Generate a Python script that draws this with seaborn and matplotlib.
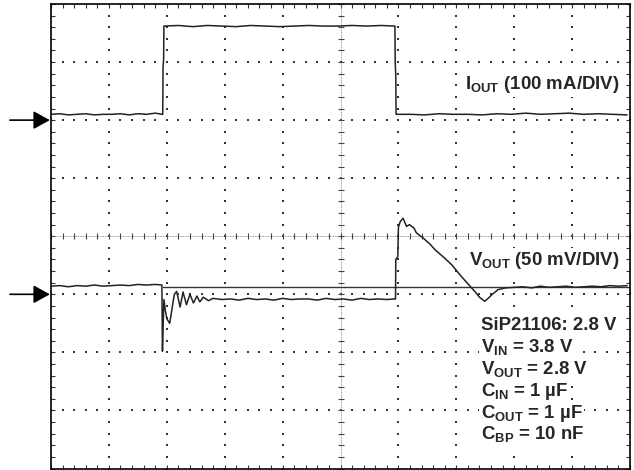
import numpy as np
import pandas as pd
import seaborn as sns
import matplotlib.pyplot as plt

# scope traces, in screen divisions (x: 0..10, y: -4..4, center = 0)
iout_t = [0.00, 0.15, 0.30, 0.45, 0.60, 0.75, 0.90, 1.05, 1.20, 1.35, 1.50, 1.65, 1.80, 1.92,
          1.93, 1.935, 1.945, 1.95,
          2.20, 2.45, 2.70, 2.95, 3.20, 3.45, 3.70, 3.95, 4.20, 4.45, 4.70, 4.95, 5.20, 5.45, 5.70, 5.93,
          5.94, 5.945, 5.955, 5.96,
          6.20, 6.45, 6.70, 6.95, 7.20, 7.45, 7.70, 7.95, 8.20, 8.45, 8.70, 8.95, 9.20, 9.45, 9.70, 9.95]
iout_v = [2.10, 2.11, 2.09, 2.10, 2.11, 2.09, 2.10, 2.10, 2.11, 2.09, 2.11, 2.10, 2.12, 2.10,
          2.10, 2.90, 3.05, 3.62,
          3.63, 3.61, 3.63, 3.62, 3.61, 3.63, 3.62, 3.61, 3.62, 3.63, 3.62, 3.62, 3.63, 3.62, 3.63, 3.62,
          3.62, 3.00, 2.75, 2.10,
          2.10, 2.09, 2.11, 2.10, 2.10, 2.09, 2.11, 2.10, 2.12, 2.10, 2.11, 2.12, 2.10, 2.11, 2.10, 2.09]

vout_t = [0.00, 0.15, 0.30, 0.45, 0.60, 0.75, 0.90, 1.05, 1.20, 1.35, 1.50, 1.65, 1.80, 1.915,
          1.925, 1.935, 1.95, 1.975, 2.00, 2.05, 2.09, 2.13, 2.17, 2.23, 2.28, 2.34, 2.40, 2.46,
          2.52, 2.57, 2.63, 2.72, 2.80,
          2.95, 3.10, 3.25, 3.40, 3.55, 3.70, 3.85, 4.00, 4.15, 4.30, 4.45, 4.60, 4.75, 4.90,
          5.05, 5.20, 5.35, 5.50, 5.65, 5.80, 5.94,
          5.95, 5.955, 5.99, 6.00, 6.03, 6.08, 6.14, 6.19, 6.27, 6.31, 6.45, 6.55, 6.63, 6.78,
          6.92, 7.06, 7.21, 7.32, 7.40, 7.49, 7.55, 7.61, 7.72, 7.85,
          8.00, 8.15, 8.30, 8.45, 8.60, 8.75, 8.90, 9.05, 9.20, 9.35, 9.50, 9.65, 9.80, 9.95]
vout_v = [-0.86, -0.85, -0.87, -0.85, -0.86, -0.84, -0.86, -0.85, -0.84, -0.85, -0.83, -0.84, -0.83, -0.84,
          -1.98, -1.60, -1.09, -1.28, -1.42, -1.50, -1.25, -1.00, -0.95, -1.22, -0.96, -1.18, -1.00, -1.15,
          -1.03, -1.13, -1.05, -1.11, -1.07,
          -1.09, -1.08, -1.10, -1.07, -1.09, -1.08, -1.10, -1.07, -1.09, -1.08, -1.08, -1.10, -1.07, -1.09,
          -1.08, -1.10, -1.07, -1.09, -1.08, -1.09, -1.08,
          -1.08, -0.40, -0.35, 0.15, 0.25, 0.31, 0.17, 0.20, 0.14, 0.06, -0.05, -0.14, -0.23, -0.36,
          -0.49, -0.66, -0.83, -0.95, -1.05, -1.12, -1.07, -1.01, -0.92, -0.89,
          -0.88, -0.87, -0.89, -0.86, -0.88, -0.87, -0.86, -0.88, -0.87, -0.86, -0.87, -0.85, -0.86, -0.85]

vout_ref_t = [1.93, 10.0]
vout_ref_v = [-0.87, -0.87]

ch_levels = [2.0, -1.0]  # channel ground markers

iout_label = r"$I_{OUT}$ (100 mA/DIV)"
vout_label = r"$V_{OUT}$ (50 mV/DIV)"
cond_lines = ["SiP21106: 2.8 V", r"$V_{IN}$ = 3.8 V", r"$V_{OUT}$ = 2.8 V",
              r"$C_{IN}$ = 1 µF", r"$C_{OUT}$ = 1 µF", r"$C_{BP}$ = 10 nF"]

sns.set_style("white")
plt.rcParams['font.family'] = ['Liberation Sans', 'DejaVu Sans']
plt.rcParams['mathtext.fontset'] = 'custom'
plt.rcParams['mathtext.rm'] = 'Liberation Sans:bold'
plt.rcParams['mathtext.it'] = 'Liberation Sans:bold'
plt.rcParams['mathtext.bf'] = 'Liberation Sans:bold'
plt.rcParams['mathtext.default'] = 'rm'

fig = plt.figure(figsize=(6.34, 4.70), dpi=100)
ax = fig.add_axes([51 / 634, 1.5 / 470, 579 / 634, 464.5 / 470])
ax.set_xlim(0, 10)
ax.set_ylim(-4, 4)

# graticule dots
gx = [v for v in range(1, 10) if v != 5]
gy = [v for v in range(-3, 4) if v != 0]
fine_y = np.arange(-4, 4.001, 0.2)
fine_x = np.arange(0, 10.001, 0.2)
for x in gx:
    ax.scatter([x] * len(fine_y), fine_y, s=2.0, marker='s', color='#333', linewidths=0, zorder=1)
for y in gy:
    ax.scatter(fine_x, [y] * len(fine_x), s=2.0, marker='s', color='#333', linewidths=0, zorder=1)
# center axes with small ticks
ax.axhline(0, color='#777', lw=0.6, ls=(0, (1, 1)), zorder=1)
ax.axvline(5, color='#777', lw=0.6, ls=(0, (1, 1)), zorder=1)
ax.scatter(fine_x, [0] * len(fine_x), s=16, marker='|', color='#444', linewidths=0.8, zorder=1)
ax.scatter([5] * len(fine_y), fine_y, s=16, marker='_', color='#444', linewidths=0.8, zorder=1)

# traces
trace = dict(estimator=None, sort=False, color='#222', lw=1.1, ax=ax, legend=False, zorder=3)
sns.lineplot(x=iout_t, y=iout_v, **trace)
sns.lineplot(x=vout_t, y=vout_v, **trace)
sns.lineplot(x=vout_ref_t, y=vout_ref_v, estimator=None, sort=False, color='#333', lw=1.0,
             ax=ax, legend=False, zorder=2)

# ground arrows
for lev in ch_levels:
    ax.annotate('', xy=(-0.02, lev), xytext=(-0.71, lev), annotation_clip=False,
                arrowprops=dict(arrowstyle='-|>,head_length=1.0,head_width=0.55', mutation_scale=10,
                                color='black', lw=1.2, shrinkA=0, shrinkB=0))

fs = 13.4
box = dict(facecolor='white', edgecolor='none', pad=1.5)
ax.text(9.81, 2.53, iout_label, ha='right', va='baseline', fontsize=fs, fontweight='bold',
        zorder=4, bbox=box)
ax.text(9.81, -0.49, vout_label, ha='right', va='baseline', fontsize=fs, fontweight='bold',
        zorder=4, bbox=box)
for i, line in enumerate(cond_lines):
    ax.text(7.42, -1.61 - 0.378 * i, line, ha='left', va='baseline', fontsize=fs,
            fontweight='bold', zorder=4, bbox=box)

ax.set_xticks(range(0, 11))
ax.set_yticks(range(-4, 5))
ax.set_xticks(fine_x, minor=True)
ax.set_yticks(fine_y, minor=True)
ax.tick_params(which='both', direction='in', length=3, width=0.8, color='#333',
               top=True, right=True, bottom=True, left=True,
               labelbottom=False, labelleft=False)
for sp in ax.spines.values():
    sp.set_visible(True)
    sp.set_color('black')
    sp.set_linewidth(1.2)
ax.set_xlabel('')
ax.set_ylabel('')

fig.savefig('out.png', dpi=100)
